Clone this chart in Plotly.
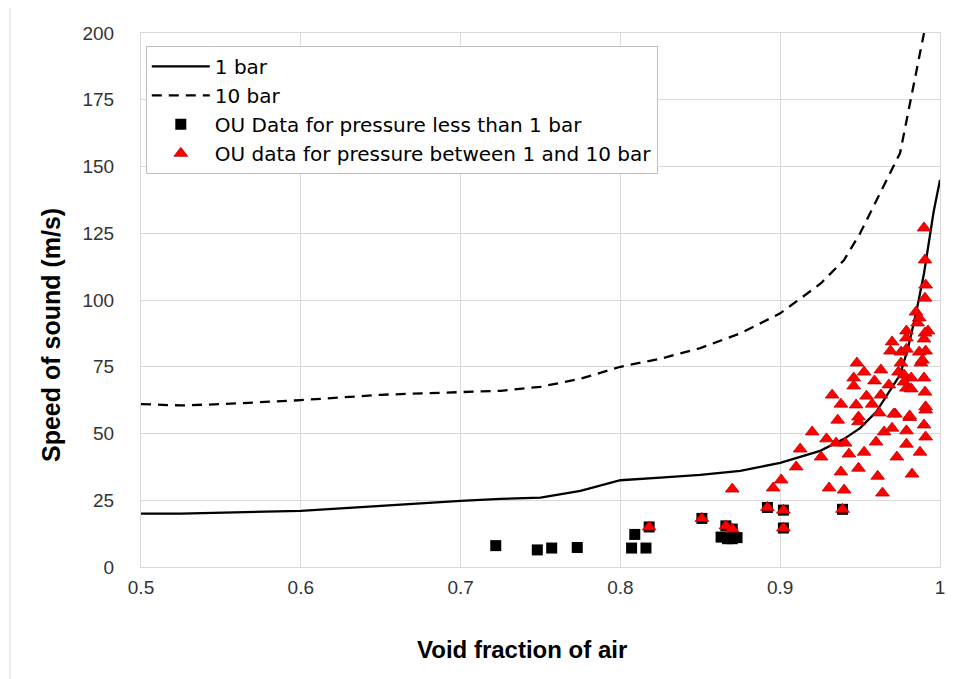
import plotly.graph_objects as go

# 1 bar model curve
x_1bar = [0.5, 0.525, 0.6, 0.65, 0.7, 0.725, 0.75, 0.775, 0.8, 0.825, 0.85, 0.875, 0.9, 0.925,
          0.94, 0.95, 0.96, 0.975, 0.98, 0.985, 0.99, 0.996, 1.0]
y_1bar = [20, 20, 21, 23, 24.8, 25.5, 26, 28.5, 32.5, 33.5, 34.5, 36, 39, 43.5,
          48, 52, 58, 72, 82, 95, 110, 133, 145]

# 10 bar model curve
x_10bar = [0.5, 0.525, 0.55, 0.6, 0.65, 0.7, 0.725, 0.75, 0.775, 0.8, 0.825, 0.85, 0.875,
           0.9, 0.925, 0.94, 0.95, 0.975, 0.99]
y_10bar = [61, 60.5, 61, 62.5, 64.5, 65.5, 66, 67.5, 70.5, 75, 78, 82, 87.5,
           95, 106, 115, 125, 155, 200]

# OU data, pressure < 1 bar
x_sq = [0.722, 0.748, 0.757, 0.773, 0.807, 0.809, 0.816, 0.863, 0.867, 0.870, 0.873,
        0.818, 0.851, 0.866, 0.870, 0.892, 0.902, 0.902, 0.939]
y_sq = [8.0, 6.4, 7.1, 7.3, 7.1, 12.2, 7.1, 11.2, 10.6, 10.6, 11.0,
        15.0, 18.2, 15.4, 14.2, 22.3, 21.3, 14.6, 21.6]

# OU data, pressure between 1 and 10 bar
x_tri = [0.818, 0.851, 0.866, 0.870, 0.892, 0.902, 0.902, 0.939, 0.870,
         0.9325, 0.938, 0.936, 0.920, 0.929, 0.935, 0.9406, 0.9125, 0.9256, 0.910, 0.938,
         0.9006, 0.8956, 0.9306, 0.940,
         0.949, 0.962, 0.972, 0.981, 0.991, 0.965, 0.970, 0.979, 0.990, 0.991, 0.960, 0.979,
         0.943, 0.9525, 0.973, 0.9875, 0.949, 0.961, 0.9825, 0.964,
         0.985, 0.986, 0.9925, 0.9906, 0.979, 0.979, 0.970, 0.990, 0.969, 0.9756, 0.979,
         0.987, 0.991, 0.9756, 0.988, 0.989, 0.948, 0.9525, 0.963, 0.974, 0.9775, 0.946,
         0.946, 0.959, 0.982, 0.990, 0.968, 0.9775, 0.979, 0.982, 0.9906, 0.954, 0.963,
         0.9475, 0.9575, 0.991, 0.971, 0.981, 0.949,
         0.990, 0.9906, 0.991, 0.9906, 0.987]
y_tri = [15.0, 18.2, 15.4, 14.2, 22.3, 21.3, 14.6, 21.6, 29.2,
         64.4, 61.0, 55.0, 50.6, 48.0, 46.4, 46.4, 44.2, 41.2, 37.5, 35.6,
         32.6, 29.6, 29.6, 28.8,
         54.4, 57.7, 57.3, 56.0, 58.8, 50.6, 52.0, 51.0, 53.2, 48.7, 46.8, 46.0,
         42.3, 43.0, 41.2, 43.0, 37.0, 34.0, 34.8, 27.7,
         95.5, 91.4, 88.4, 87.6, 88.4, 85.8, 84.3, 85.4, 80.9, 80.5, 81.6,
         80.5, 80.9, 76.4, 76.4, 77.5, 76.4, 73.0, 73.8, 73.0, 71.9, 70.8,
         67.8, 69.7, 70.8, 70.8, 68.2, 69.3, 67.0, 66.7, 65.5, 64.0, 64.4,
         60.7, 61.0, 60.0, 57.3, 56.6, 56.2,
         127.0, 115.0, 105.6, 100.7, 93.3]

x_ticks = [0.5, 0.6, 0.7, 0.8, 0.9, 1.0]
x_ticklabels = ["0.5", "0.6", "0.7", "0.8", "0.9", "1"]
y_ticks = [0, 25, 50, 75, 100, 125, 150, 175, 200]

x_title = "Void fraction of air"
y_title = "Speed of sound (m/s)"

font_family = "Liberation Sans, Arial, sans-serif"

fig = go.Figure()
fig.add_trace(go.Scatter(x=x_1bar, y=y_1bar, mode="lines", name="1 bar",
                         line=dict(color="black", width=2.3)))
fig.add_trace(go.Scatter(x=x_10bar, y=y_10bar, mode="lines", name="10 bar",
                         line=dict(color="black", width=2.3, dash="10px,7px")))
fig.add_trace(go.Scatter(x=x_sq, y=y_sq, mode="markers",
                         name="OU Data for pressure less than 1 bar",
                         marker=dict(symbol="square", size=11, color="black")))
fig.add_trace(go.Scatter(x=x_tri, y=y_tri, mode="markers",
                         name="OU data for pressure between 1 and 10 bar",
                         marker=dict(symbol="triangle-up", size=12, color="#FF0000",
                                     line=dict(color="#C00000", width=0.8))))

# page body has an 8px margin: plot area spans pixels 141..940 x 33..567
fig.update_layout(
    width=956, height=679,
    margin=dict(l=133, r=24, t=25, b=120),
    paper_bgcolor="white", plot_bgcolor="white",
    font=dict(family=font_family, size=19, color="#333333"),
    showlegend=True,
    legend=dict(x=0.006, y=0.976, xanchor="left", yanchor="top",
                bgcolor="white", bordercolor="#BFBFBF", borderwidth=1,
                font=dict(family="DejaVu Sans, sans-serif", size=20, color="black"),
                tracegroupgap=0, itemwidth=58),
    shapes=[dict(type="rect", xref="paper", yref="paper",
                 x0=(10 - 141) / 799, x1=(990 - 141) / 799,
                 y0=(567 - 710) / 534, y1=(567 - 6) / 534,
                 line=dict(color="#D9D9D9", width=1), layer="below")],
    annotations=[
        dict(text="<b>" + x_title + "</b>", xref="paper", yref="paper",
             x=(522 - 141) / 799, y=(567 - 649) / 534, xanchor="center", yanchor="middle",
             showarrow=False, font=dict(size=24, color="black")),
        dict(text="<b>" + y_title + "</b>", xref="paper", yref="paper",
             x=(51 - 141) / 799, y=(567 - 335) / 534, xanchor="center", yanchor="middle",
             textangle=-90, showarrow=False, font=dict(size=25, color="black")),
    ],
)
fig.update_xaxes(range=[0.5, 1.0], tickvals=x_ticks, ticktext=x_ticklabels,
                 showgrid=True, gridcolor="#D9D9D9", gridwidth=1,
                 showline=True, linecolor="#D9D9D9", linewidth=1, mirror=True,
                 zeroline=False, ticks="", ticklabelstandoff=3,
                 tickfont=dict(size=19, color="#333333"))
fig.update_yaxes(range=[0, 200], tickvals=y_ticks,
                 showgrid=True, gridcolor="#D9D9D9", gridwidth=1,
                 showline=True, linecolor="#D9D9D9", linewidth=1, mirror=True,
                 zeroline=False, ticks="", ticklabelstandoff=22,
                 tickfont=dict(size=19, color="#333333"))

fig.write_html("out.html")
